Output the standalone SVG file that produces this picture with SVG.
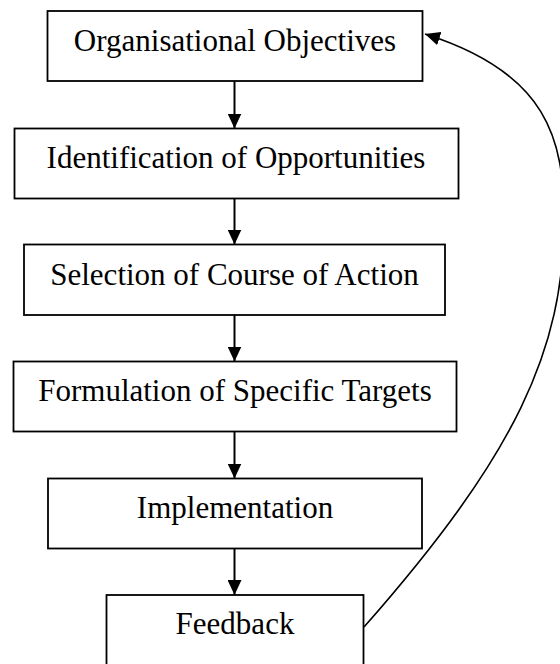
<svg xmlns="http://www.w3.org/2000/svg" width="560" height="664" viewBox="0 0 560 664">
  <style>
    .box { fill: #ffffff; stroke: #000000; stroke-width: 1.8; }
    .label { font-family: "Liberation Serif", "Times New Roman", serif; font-size: 31px; fill: #000000; text-anchor: middle; }
    .flow { fill: none; stroke: #000000; stroke-width: 2; marker-end: url(#head); }
    .loop { fill: none; stroke: #000000; stroke-width: 1.6; marker-end: url(#head); }
  </style>
  <defs>
    <marker id="head" markerUnits="userSpaceOnUse" markerWidth="15" markerHeight="14" refX="15" refY="7" orient="auto">
      <path d="M0,0 L15,7 L0,14 z" fill="#000000"/>
    </marker>
  </defs>
  <rect width="560" height="664" fill="#ffffff"/>

  <!-- planning steps -->
  <g id="organisational-objectives">
    <rect class="box" x="47.5" y="11" width="375" height="70"/>
    <text class="label" x="235" y="51">Organisational Objectives</text>
  </g>
  <g id="identification-of-opportunities">
    <rect class="box" x="14.5" y="128.5" width="444" height="70"/>
    <text class="label" x="236" y="167.5">Identification of Opportunities</text>
  </g>
  <g id="selection-of-course">
    <rect class="box" x="24" y="244.5" width="421" height="70.5"/>
    <text class="label" x="234.5" y="284.5">Selection of Course of Action</text>
  </g>
  <g id="formulation-of-targets">
    <rect class="box" x="13.5" y="361.5" width="443" height="70"/>
    <text class="label" x="235" y="401">Formulation of Specific Targets</text>
  </g>
  <g id="implementation">
    <rect class="box" x="48" y="478.5" width="374" height="70"/>
    <text class="label" x="235" y="517.5">Implementation</text>
  </g>
  <g id="feedback">
    <rect class="box" x="106.5" y="595" width="257" height="70"/>
    <text class="label" x="235" y="634">Feedback</text>
  </g>

  <!-- connectors -->
  <g id="connectors">
    <line class="flow" x1="234.5" y1="81" x2="234.5" y2="128.5"/>
    <line class="flow" x1="234.5" y1="198.5" x2="234.5" y2="244.5"/>
    <line class="flow" x1="234.5" y1="315" x2="234.5" y2="361.5"/>
    <line class="flow" x1="234.5" y1="431.5" x2="234.5" y2="478.5"/>
    <line class="flow" x1="234.5" y1="548.5" x2="234.5" y2="595"/>
    <path class="loop" d="M364,627 C515.8,454.5 564,350 564,220 C564,140 548.5,73 425,34"/>
  </g>
</svg>
